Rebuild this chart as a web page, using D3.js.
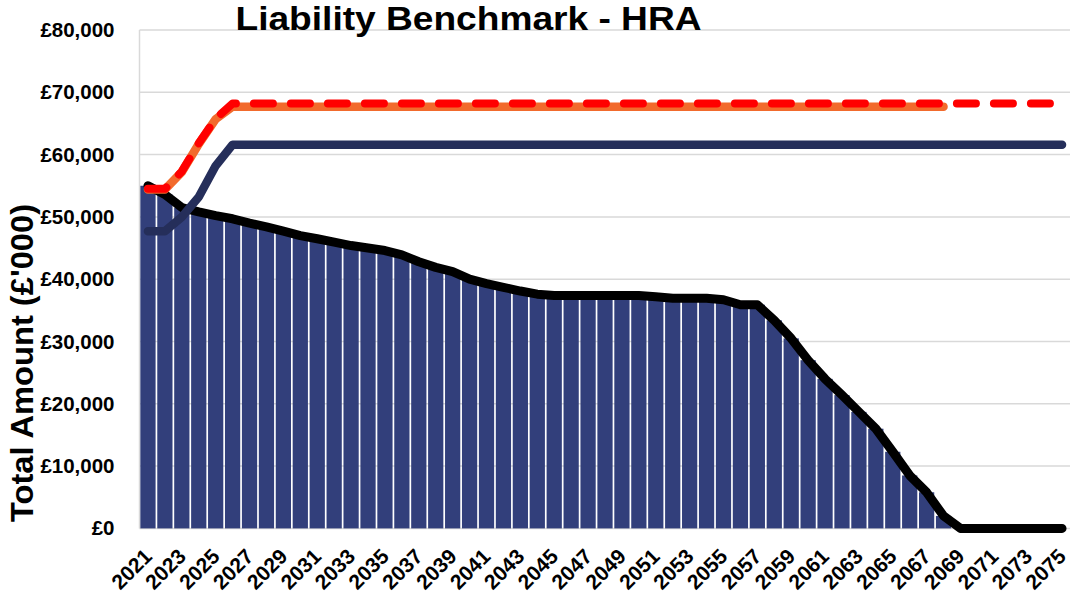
<!DOCTYPE html>
<html>
<head>
    <meta charset="utf-8">
    <style>
        body {
            margin: 0;
            background: #fff;
            font-family: 'Liberation Sans', Arial, sans-serif;
        }

        svg {
            display: block;
        }

        .grid line {
            stroke: #d9d9d9;
            stroke-width: 1.5px;
        }

        .y.axis .domain,
        .x.axis .domain {
            display: none;
        }

        .y.axis .tick line,
        .x.axis .tick line {
            display: none;
        }

        .y.axis text {
            font-size: 20.5px;
            font-weight: bold;
            fill: #000;
        }

        .x.axis text {
            font-size: 21px;
            font-weight: bold;
            fill: #000;
        }
    </style>
</head>

<body>
    <svg class="chart" width="1070" height="595"></svg>
</body>

<script src="https://d3js.org/d3.v7.min.js"></script>

<script>
    // years on the category axis
    let years = d3.range(2021, 2076)

    // bars + black line (liability profile, £'000)
    let liability = [
        55000, 53600, 51500, 50800, 50200, 49700, 49000, 48400, 47700, 47000,
        46500, 45950, 45400, 45000, 44600, 43900, 42800, 41900, 41200, 40000,
        39300, 38700, 38100, 37600, 37400, 37400, 37400, 37400, 37400, 37400,
        37200, 36950, 36950, 36950, 36700, 35900, 35900, 33400, 30500, 27000,
        24000, 21400, 18700, 16000, 12300, 8500, 5800, 2000, 0, 0,
        0, 0, 0, 0, 0
    ]

    // navy line
    let navy = [
        47700, 47700, 50000, 53200, 58200, 61600, 61600, 61600, 61600, 61600,
        61600, 61600, 61600, 61600, 61600, 61600, 61600, 61600, 61600, 61600,
        61600, 61600, 61600, 61600, 61600, 61600, 61600, 61600, 61600, 61600,
        61600, 61600, 61600, 61600, 61600, 61600, 61600, 61600, 61600, 61600,
        61600, 61600, 61600, 61600, 61600, 61600, 61600, 61600, 61600, 61600,
        61600, 61600, 61600, 61600, 61600
    ]

    // orange line (stops at 2068)
    let orange = [
        54400, 54400, 57200, 61700, 65700, 67700, 67700, 67700, 67700, 67700,
        67700, 67700, 67700, 67700, 67700, 67700, 67700, 67700, 67700, 67700,
        67700, 67700, 67700, 67700, 67700, 67700, 67700, 67700, 67700, 67700,
        67700, 67700, 67700, 67700, 67700, 67700, 67700, 67700, 67700, 67700,
        67700, 67700, 67700, 67700, 67700, 67700, 67700, 67700, null, null,
        null, null, null, null, null
    ]

    // red dashed line
    let red = [
        54500, 54500, 57300, 61800, 65800, 68200, 68200, 68200, 68200, 68200,
        68200, 68200, 68200, 68200, 68200, 68200, 68200, 68200, 68200, 68200,
        68200, 68200, 68200, 68200, 68200, 68200, 68200, 68200, 68200, 68200,
        68200, 68200, 68200, 68200, 68200, 68200, 68200, 68200, 68200, 68200,
        68200, 68200, 68200, 68200, 68200, 68200, 68200, 68200, 68200, 68200,
        68200, 68200, 68200, 68200, 68200
    ]

    let yTicks = [0, 10000, 20000, 30000, 40000, 50000, 60000, 70000, 80000]
    let xLabels = years.filter((d, i) => i % 2 == 0)

    let margin = {top: 30, right: 0, bottom: 66.6, left: 139.5}
    let width = 1070.5
    let height = 595

    let svg = d3.select(".chart")

    let x = d3.scaleBand()
        .domain(years)
        .range([margin.left, width - margin.right])
        .paddingInner(0.1)
        .paddingOuter(0.05)

    let y = d3.scaleLinear()
        .domain([0, 80000])
        .range([height - margin.bottom, margin.top])

    // gridlines
    svg.append("g")
        .attr("class", "grid")
        .selectAll("line")
        .data(yTicks)
        .join("line")
        .attr("x1", margin.left)
        .attr("x2", width)
        .attr("y1", d => y(d))
        .attr("y2", d => y(d))

    // left axis line
    svg.append("line")
        .attr("x1", margin.left)
        .attr("x2", margin.left)
        .attr("y1", y(80000))
        .attr("y2", y(0))
        .attr("stroke", "#d9d9d9")
        .attr("stroke-width", 1.5)

    let yAxisSettings = d3.axisLeft(y)
        .tickValues(yTicks)
        .tickSize(0)
        .tickPadding(25)
        .tickFormat(d => "£" + d3.format(",")(d))

    svg.append("g")
        .attr("class", "y axis")
        .attr("transform", `translate(${margin.left}, 0)`)
        .call(yAxisSettings)

    // bars
    svg.append("g")
        .selectAll("rect")
        .data(years.map((d, i) => ({year: d, value: liability[i]})).filter(d => d.value > 0))
        .join("rect")
        .attr("x", d => x(d.year))
        .attr("width", x.bandwidth())
        .attr("y", d => y(d.value))
        .attr("height", d => y(0) - y(d.value))
        .attr("fill", "#323f7b")

    let xAxisSettings = d3.axisBottom(x)
        .tickValues(xLabels)
        .tickSize(0)

    svg.append("g")
        .attr("class", "x axis")
        .attr("transform", `translate(0, ${y(0)})`)
        .call(xAxisSettings)
        .selectAll("text")
        .attr("text-anchor", "end")
        .attr("dy", "0.35em")
        .attr("transform", "translate(-2, 22) rotate(-45)")

    let cx = d => x(d.year) + x.bandwidth() / 2

    let series = d3.line()
        .defined(d => d.value != null)
        .x(cx)
        .y(d => y(d.value))

    let toPoints = arr => years.map((d, i) => ({year: d, value: arr[i]}))

    svg.append("path")
        .attr("d", series(toPoints(liability)))
        .style("fill", "none")
        .style("stroke", "#000")
        .style("stroke-width", "9px")
        .style("stroke-linejoin", "round")
        .style("stroke-linecap", "round")

    svg.append("path")
        .attr("d", series(toPoints(navy)))
        .style("fill", "none")
        .style("stroke", "#252e5a")
        .style("stroke-width", "8.5px")
        .style("stroke-linejoin", "round")
        .style("stroke-linecap", "round")

    svg.append("path")
        .attr("d", series(toPoints(orange)))
        .style("fill", "none")
        .style("stroke", "#f26a2c")
        .style("stroke-width", "8.5px")
        .style("stroke-linejoin", "round")
        .style("stroke-linecap", "round")

    svg.append("path")
        .attr("d", series(toPoints(red)))
        .style("fill", "none")
        .style("stroke", "#ff0000")
        .style("stroke-width", "8px")
        .style("stroke-linejoin", "round")
        .style("stroke-linecap", "round")
        .style("stroke-dasharray", "19,18")

    // axis title
    svg.append("text")
        .attr("transform", "translate(33, 363) rotate(-90)")
        .attr("text-anchor", "middle")
        .attr("font-size", "32px")
        .attr("font-weight", "bold")
        .attr("textLength", 318)
        .attr("lengthAdjust", "spacingAndGlyphs")
        .text("Total Amount (£'000)")

    // chart title
    svg.append("text")
        .attr("x", 468.5)
        .attr("y", 29.5)
        .attr("text-anchor", "middle")
        .attr("font-size", "34px")
        .attr("font-weight", "bold")
        .attr("textLength", 466)
        .attr("lengthAdjust", "spacingAndGlyphs")
        .text("Liability Benchmark - HRA")
</script>
</html>
